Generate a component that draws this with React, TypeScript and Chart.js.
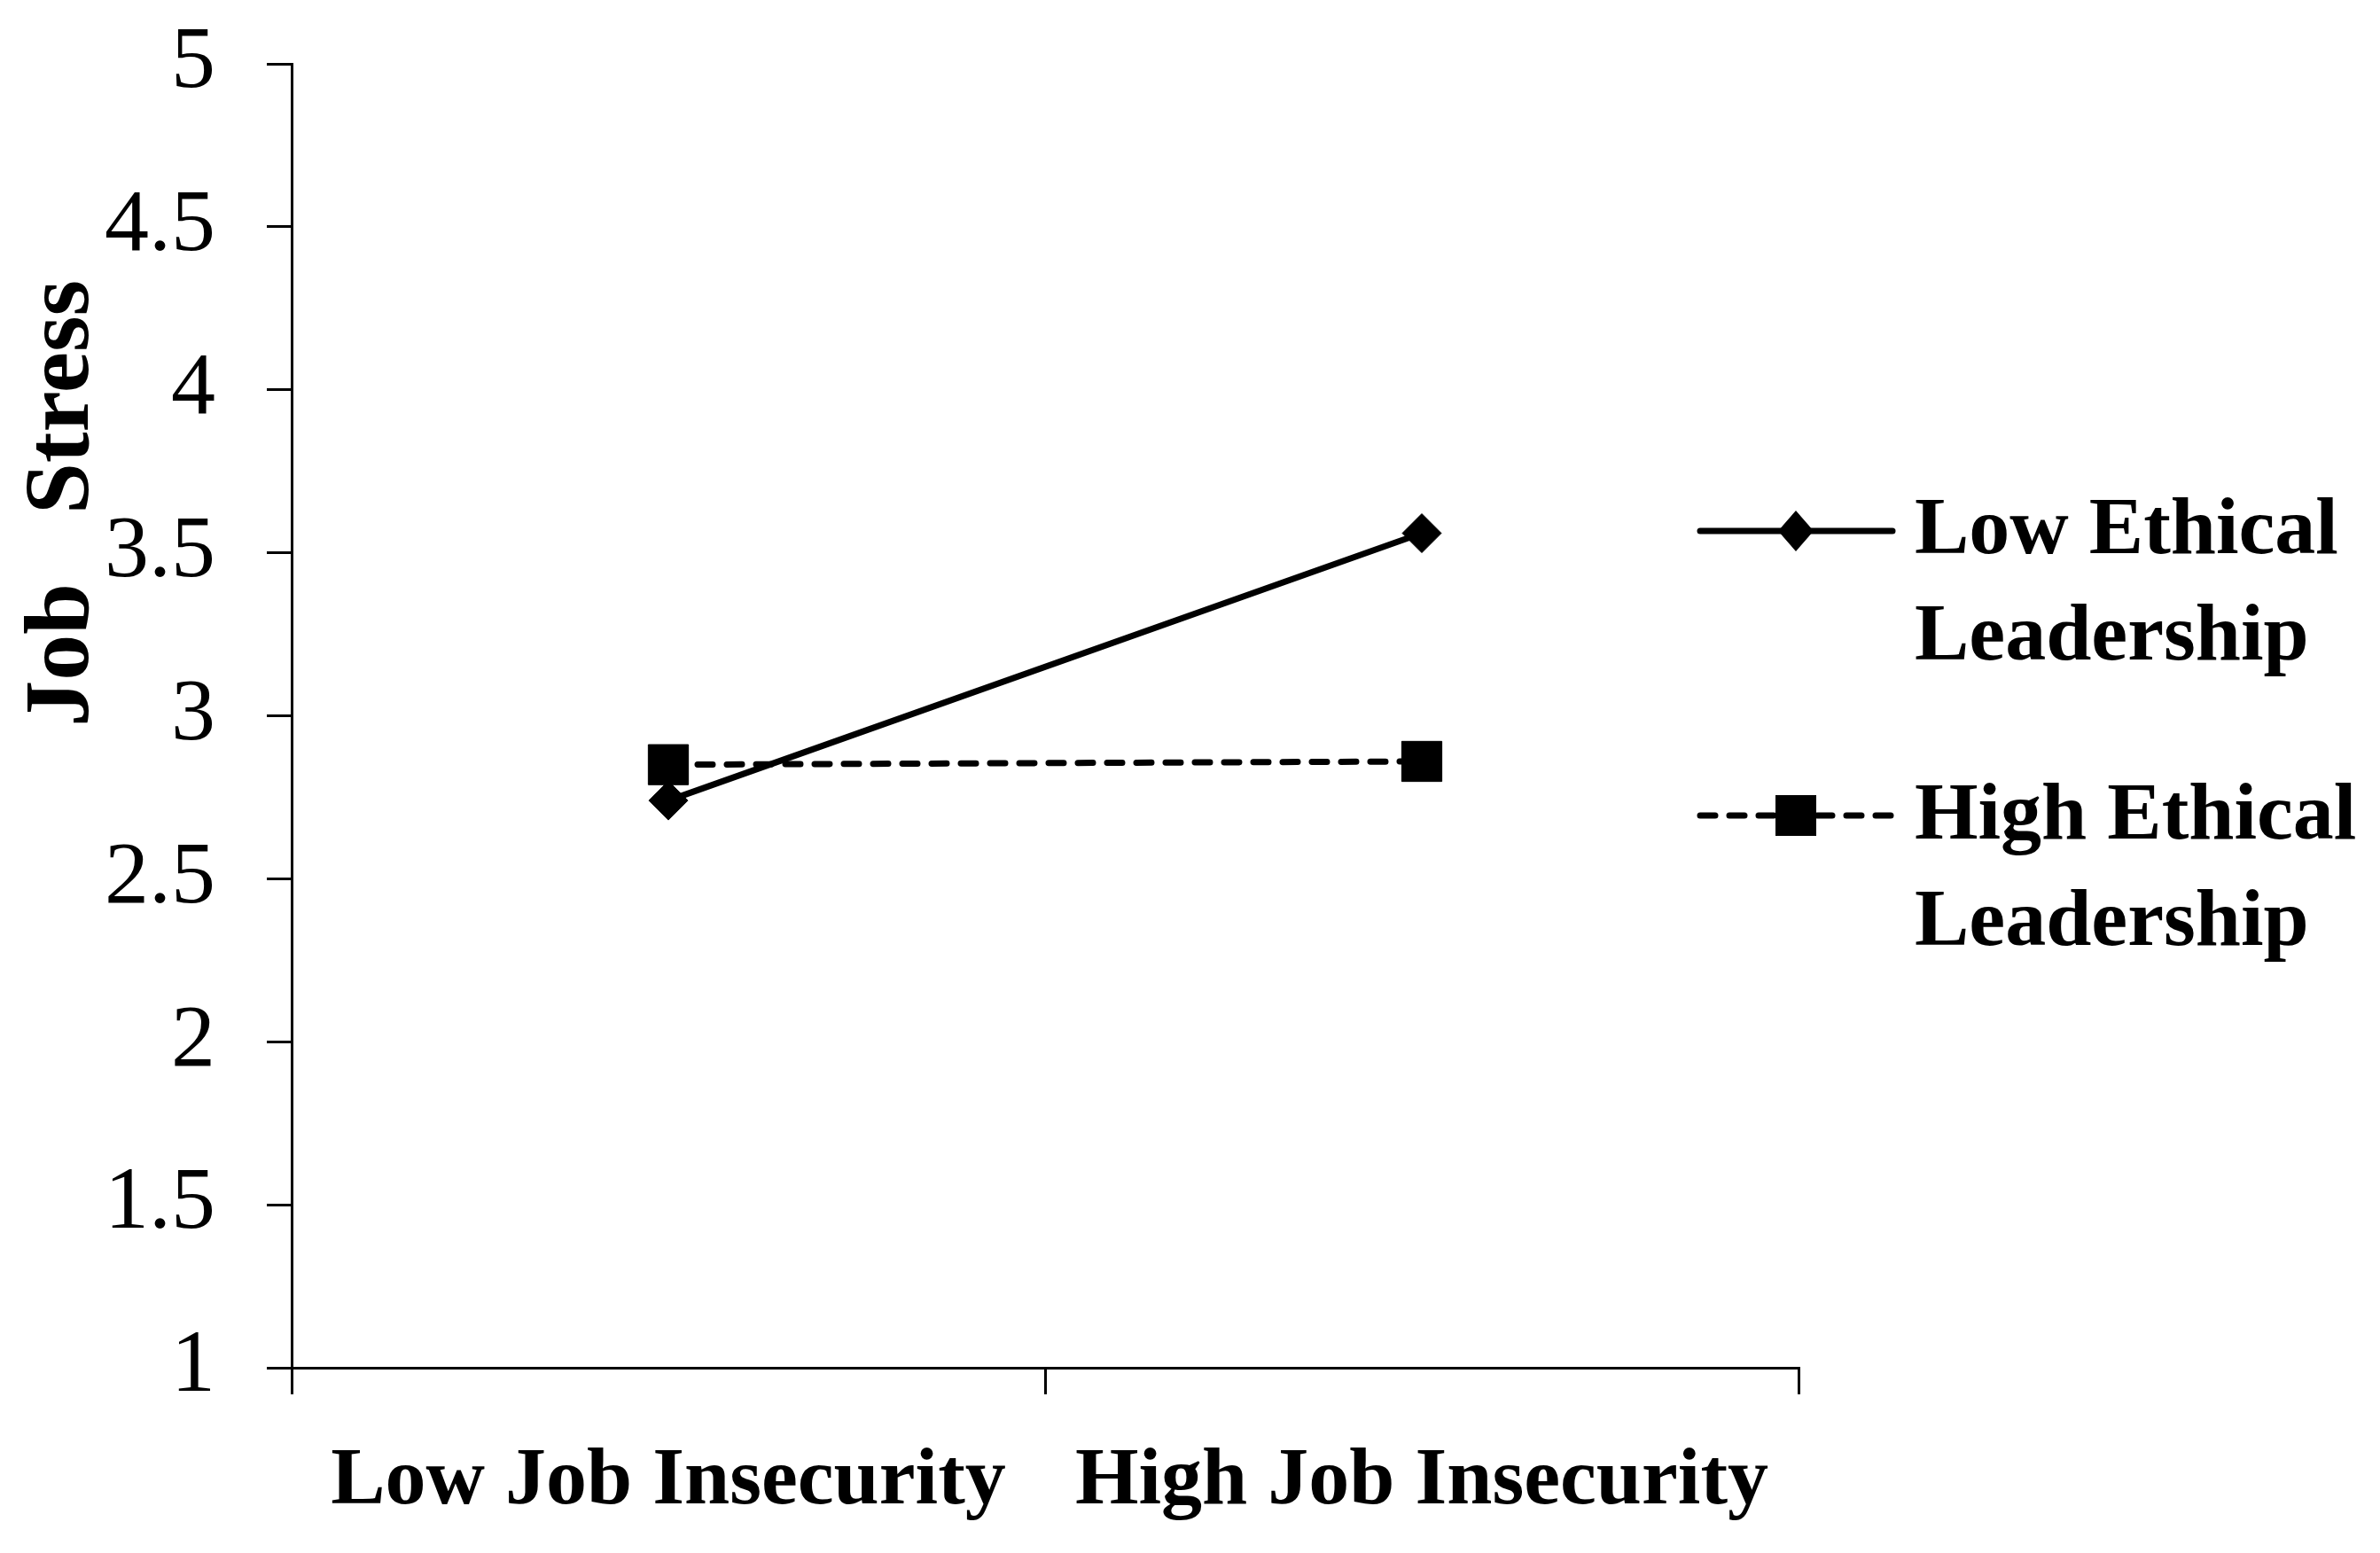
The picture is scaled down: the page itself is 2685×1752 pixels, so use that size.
import React, { useEffect, useRef } from "react";
import { Chart, registerables } from "chart.js";

Chart.register(...registerables);

// ---- data ----
const CATEGORIES = ["Low Job Insecurity", "High Job Insecurity"];
const SERIES_NAMES = ["Low Ethical Leadership", "High Ethical Leadership"];
const LEGEND_LINES = [
  ["Low Ethical", "Leadership"],
  ["High Ethical", "Leadership"],
];
const LOW_EL = [2.74, 3.56];
const HIGH_EL = [2.85, 2.86];
const Y_TICKS = [1, 1.5, 2, 2.5, 3, 3.5, 4, 4.5, 5];
const Y_TICK_LABELS = ["1", "1.5", "2", "2.5", "3", "3.5", "4", "4.5", "5"];
const Y_TITLE = "Job   Stress";

// ---- layout / style ----
const W = 2685;
const H = 1752;
const SERIF = "'Liberation Serif', 'Times New Roman', serif";
const LINE_W = 7;
const DASH = [17, 16];

const yTitlePlugin = {
  id: "yTitle",
  afterDraw(chart: any) {
    const ctx = chart.ctx;
    ctx.save();
    ctx.translate(99, 568);
    ctx.rotate(-Math.PI / 2);
    ctx.font = `bold 104px ${SERIF}`;
    ctx.fillStyle = "#000";
    ctx.textAlign = "center";
    ctx.textBaseline = "alphabetic";
    ctx.fillText(Y_TITLE, 0, 0);
    ctx.restore();
  },
};

const LEGEND = {
  lineX0: 1918,
  lineX1: 2135,
  markerX: 2026,
  textX: 2160,
  lineY: [599, 920],
  baseline: [624, 946],
  lineGap: 120,
};

const sideLegendPlugin = {
  id: "sideLegend",
  afterDraw(chart: any) {
    const ctx = chart.ctx;
    chart.data.datasets.forEach((ds: any, i: number) => {
      const y = LEGEND.lineY[i];
      ctx.save();
      ctx.strokeStyle = "#000";
      ctx.lineWidth = LINE_W;
      ctx.lineCap = "round";
      ctx.setLineDash(ds.borderDash || []);
      ctx.beginPath();
      ctx.moveTo(LEGEND.lineX0, y);
      ctx.lineTo(LEGEND.lineX1, y);
      ctx.stroke();
      ctx.setLineDash([]);
      ctx.fillStyle = "#000";
      ctx.beginPath();
      const cx = LEGEND.markerX;
      if (ds.pointStyle === "rectRot") {
        ctx.moveTo(cx - 20, y);
        ctx.lineTo(cx, y - 23);
        ctx.lineTo(cx + 20, y);
        ctx.lineTo(cx, y + 23);
        ctx.closePath();
      } else {
        ctx.rect(cx - 23, y - 23, 46, 46);
      }
      ctx.fill();
      ctx.font = `bold 92px ${SERIF}`;
      ctx.textAlign = "left";
      ctx.textBaseline = "alphabetic";
      LEGEND_LINES[i].forEach((t, k) => {
        ctx.fillText(t, LEGEND.textX, LEGEND.baseline[i] + k * LEGEND.lineGap);
      });
      ctx.restore();
    });
  },
};

export default function App() {
  const ref = useRef<HTMLCanvasElement | null>(null);

  useEffect(() => {
    if (!ref.current) return;
    const chart = new Chart(ref.current, {
      type: "line",
      data: {
        labels: CATEGORIES,
        datasets: [
          {
            label: SERIES_NAMES[0],
            data: LOW_EL,
            borderColor: "#000",
            backgroundColor: "#000",
            borderWidth: LINE_W,
            borderCapStyle: "round",
            pointStyle: "rectRot",
            pointRadius: 22,
            pointBorderWidth: 1,
            pointBackgroundColor: "#000",
            pointBorderColor: "#000",
            tension: 0,
          },
          {
            label: SERIES_NAMES[1],
            data: HIGH_EL,
            borderColor: "#000",
            backgroundColor: "#000",
            borderWidth: LINE_W,
            borderDash: DASH,
            borderCapStyle: "round",
            pointStyle: "rect",
            pointRadius: 32,
            pointBorderWidth: 1,
            pointBackgroundColor: "#000",
            pointBorderColor: "#000",
            tension: 0,
          },
        ],
      },
      options: {
        responsive: false,
        animation: false,
        devicePixelRatio: 1,
        layout: { padding: { left: 0, top: 72, right: W - 2029, bottom: 0 } },
        plugins: {
          legend: { display: false },
          tooltip: { enabled: false },
          title: { display: false },
        },
        scales: {
          x: {
            type: "category",
            offset: true,
            grid: {
              display: true,
              offset: true,
              drawOnChartArea: false,
              drawTicks: true,
              tickLength: 30,
              tickWidth: 3,
              tickColor: "#000",
              color: "#000",
              lineWidth: 3,
            },
            border: { display: true, color: "#000", width: 3 },
            ticks: {
              color: "#000",
              font: { family: SERIF, size: 92, weight: "bold" },
              padding: 44,
              maxRotation: 0,
              autoSkip: false,
            },
            afterFit: (s: any) => {
              s.height = H - 1543;
              s.paddingLeft = 0;
              s.paddingRight = 0;
            },
          },
          y: {
            type: "linear",
            min: 1,
            max: 5,
            afterBuildTicks: (s: any) => {
              s.ticks = Y_TICKS.map((v) => ({ value: v }));
            },
            grid: {
              display: true,
              drawOnChartArea: false,
              drawTicks: true,
              tickLength: 28,
              tickWidth: 3,
              tickColor: "#000",
              color: "#000",
              lineWidth: 3,
            },
            border: { display: true, color: "#000", width: 3 },
            ticks: {
              color: "#000",
              font: { family: SERIF, size: 100 },
              padding: 58,
              callback: (v: any) => {
                const i = Y_TICKS.indexOf(Number(v));
                return i >= 0 ? Y_TICK_LABELS[i] : "";
              },
            },
            afterFit: (s: any) => {
              s.width = 329;
              s.paddingTop = 0;
              s.paddingBottom = 0;
            },
          },
        },
      },
      plugins: [yTitlePlugin, sideLegendPlugin],
    } as any);
    return () => chart.destroy();
  }, []);

  return (
    <div style={{ position: "fixed", left: 0, top: 0, width: W, height: H, background: "#fff" }}>
      <canvas ref={ref} width={W} height={H} style={{ display: "block", width: W, height: H }} />
    </div>
  );
}
